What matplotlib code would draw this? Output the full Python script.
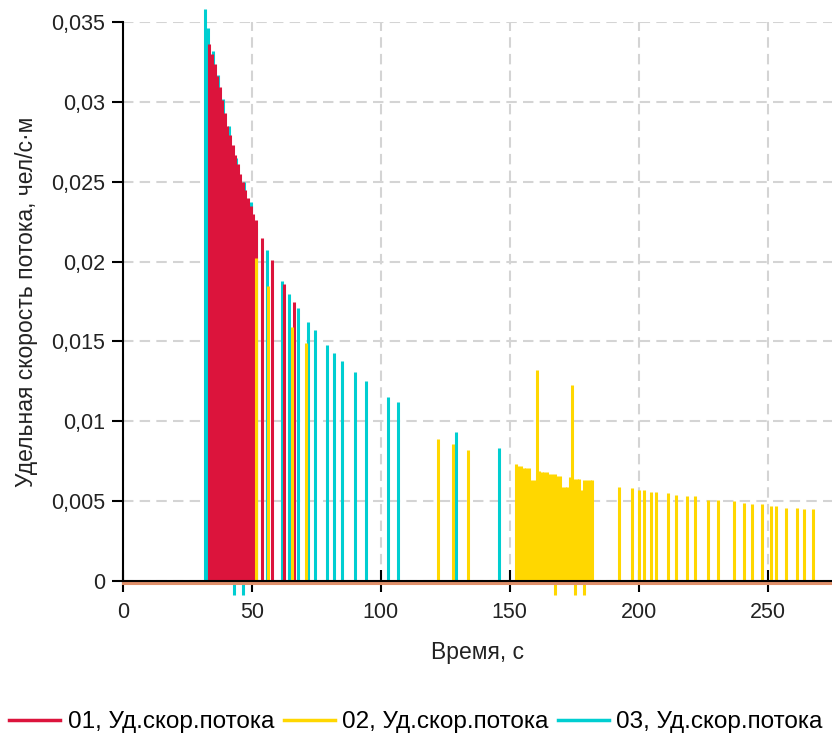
import matplotlib
matplotlib.use("Agg")
import matplotlib.pyplot as plt
from matplotlib.lines import Line2D
from matplotlib.ticker import FuncFormatter

plt.rcParams['font.family'] = ['Liberation Sans', 'DejaVu Sans']

# 01 - red, dense block then separate spikes
red_t = [33.5, 34.5, 35.5, 36.5, 37.5, 38.5, 39.5, 40.5, 41.5, 42.5, 43.5, 44.5,
         45.5, 46.5, 47.5, 48.5, 49.5, 50.5, 51.5, 54.0, 57.8, 62.4, 66.3]
red_v = [0.0336, 0.0330, 0.0324, 0.0316, 0.0309, 0.0301, 0.0293, 0.0285, 0.0279,
         0.0273, 0.0267, 0.0261, 0.0255, 0.0250, 0.0245, 0.0240, 0.0235, 0.0230,
         0.0226, 0.0215, 0.0201, 0.0186, 0.0175]

# 02 - yellow
yellow_t = [51.6, 56.2, 65.7, 71.0, 122.2, 128.0, 133.8,
            152.4, 153.4, 154.4, 155.4, 156.4, 157.4, 158.4, 159.4, 160.4, 161.4,
            162.4, 163.4, 164.4, 165.4, 166.4, 167.4, 168.4, 169.4, 170.4, 171.4,
            172.4, 173.4, 174.2, 175.0, 176.0, 177.0, 178.0, 179.0, 180.0, 181.0,
            181.9,
            192.4, 197.4, 200.2, 202.1, 204.8, 206.7, 211.4, 214.5, 218.8, 221.9,
            226.9, 230.8, 237.0, 240.9, 244.0, 247.9, 251.4, 253.3, 257.2, 261.4,
            264.2, 267.6]
yellow_v = [0.0202, 0.0185, 0.0159, 0.0149, 0.0089, 0.0086, 0.0082,
            0.0073, 0.0072, 0.0072, 0.0071, 0.0071, 0.0071, 0.0063, 0.0063, 0.0132,
            0.0069, 0.0068, 0.0068, 0.0068, 0.0067, 0.0067, 0.0067, 0.0066, 0.0066,
            0.0059, 0.0059, 0.0059, 0.0065, 0.0123, 0.0064, 0.0064, 0.0064, 0.0057,
            0.0063, 0.0063, 0.0063, 0.0063,
            0.0059, 0.0058, 0.0057, 0.0057, 0.0056, 0.0056, 0.0055, 0.0054, 0.0053,
            0.0053, 0.0051, 0.0051, 0.0050, 0.0049, 0.0048, 0.0048, 0.0047, 0.0047,
            0.0046, 0.0046, 0.0045, 0.0045]
yellow_neg_t = [167.6, 175.3, 178.8]

# 03 - cyan
cyan_t = [31.8, 33.0, 34.8, 36.8, 38.8, 41.0, 44.0, 47.0, 49.5, 51.6, 55.9, 61.7,
          64.4, 67.9, 71.8, 74.5, 79.1, 81.8, 85.0, 90.0, 94.3, 102.8, 106.7,
          129.2, 145.8]
cyan_v = [0.0358, 0.0346, 0.0332, 0.0317, 0.0302, 0.0285, 0.0265, 0.0250, 0.0237,
          0.0221, 0.0207, 0.0188, 0.0180, 0.0171, 0.0162, 0.0157, 0.0148, 0.0143,
          0.0138, 0.0131, 0.0125, 0.0115, 0.0112, 0.0093, 0.0083]
cyan_neg_t = [43.1, 46.5]
neg_v = -0.0009

labels = ['01, Уд.скор.потока', '02, Уд.скор.потока', '03, Уд.скор.потока']
colors = ['#dc143c', '#ffd700', '#00ced1']

fs = 15.5
fig = plt.figure(figsize=(8.32, 7.42), dpi=100)
ax = fig.add_axes([123/832, 1 - 581/742, 1 - 123/832, (581 - 22)/742])

lw = 2.2
ax.vlines(cyan_t, 0, cyan_v, colors=colors[2], linewidth=lw, zorder=3, clip_on=False)
ax.vlines(cyan_neg_t, neg_v, 0, colors=colors[2], linewidth=lw, zorder=3, clip_on=False)
ax.vlines(red_t, 0, red_v, colors=colors[0], linewidth=lw, zorder=4, clip_on=False)
ax.vlines(yellow_t, 0, yellow_v, colors=colors[1], linewidth=lw, zorder=5, clip_on=False)
ax.vlines(yellow_neg_t, neg_v, 0, colors=colors[1], linewidth=lw, zorder=5, clip_on=False)
# baseline of the series along zero
ax.plot([0, 275], [-0.00012, -0.00012], color='#e0906a', linewidth=2.2, zorder=6,
        clip_on=False)

ax.set_xlim(0, 275)
ax.set_ylim(0, 0.035)
ax.set_xticks([0, 50, 100, 150, 200, 250])
ax.set_yticks([0, 0.005, 0.01, 0.015, 0.02, 0.025, 0.03, 0.035])
ax.yaxis.set_major_formatter(FuncFormatter(lambda v, p: ('%g' % v).replace('.', ',')))

for s in ['top', 'right']:
    ax.spines[s].set_visible(False)
for s in ['left', 'bottom']:
    ax.spines[s].set_linewidth(1.5)
    ax.spines[s].set_zorder(7)

ax.tick_params(axis='x', direction='inout', length=16, width=1.5, pad=7,
               labelsize=fs, labelcolor='#222222')
ax.tick_params(axis='y', direction='out', length=8, width=1.5, pad=5,
               labelsize=fs, labelcolor='#222222')

ax.grid(True, linestyle=(0, (5, 3)), color='#d4d4d4', linewidth=1.5, zorder=0)
ax.set_axisbelow(True)

ax.set_xlabel('Время, с', fontsize=16.5, color='#222222', labelpad=13)
ax.set_ylabel('Удельная скорость потока, чел/с·м', fontsize=16.5, color='#222222',
              labelpad=9)

handles = [Line2D([], [], color=c, linewidth=2.5) for c in colors]
fig.legend(handles, labels, loc='center', bbox_to_anchor=(0.5, 20/742), ncol=3,
           frameon=False, fontsize=17.5, handlelength=2.1, handletextpad=0.3,
           columnspacing=0.4)

fig.savefig('out.png', dpi=100)
